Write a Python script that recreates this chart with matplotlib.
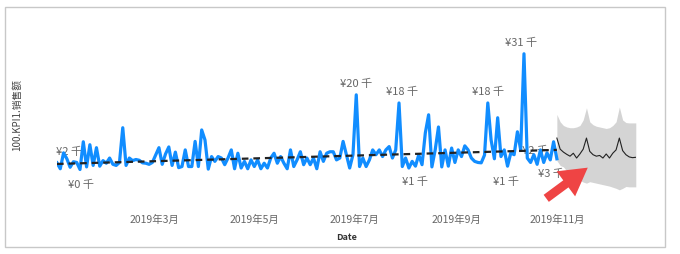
import matplotlib

matplotlib.use("Agg")
import matplotlib.pyplot as plt
import matplotlib.dates as mdates
import pandas as pd
from matplotlib.patches import FancyArrowPatch, Rectangle

plt.rcParams["font.family"] = ["Noto Sans CJK SC", "DejaVu Sans"]

# actual sales (thousand yuan), one reading every 2 days from 2019-01-01
sales = [
    1.9, 0.3, 4.6, 3.0, 0.7, 2.2, 2.0, 0.1, 7.6, 0.8, 6.8, 1.2, 6.0, 1.0, 2.5, 1.8,
    3.2, 1.5, 1.2, 2.0, 11.4, 1.2, 3.2, 2.5, 2.8, 2.6, 1.9, 1.8, 1.5, 2.0, 4.0, 6.0,
    1.5, 4.3, 6.2, 1.2, 4.8, 0.6, 0.9, 5.4, 0.9, 0.9, 7.7, 0.9, 10.8, 8.1, 0.2, 3.6,
    2.3, 3.6, 3.2, 1.4, 3.2, 5.4, 0.3, 4.5, 0.5, 2.3, 0.3, 2.7, 0.9, 2.7, 0.3, 1.8,
    0.5, 3.2, 4.5, 1.8, 3.6, 1.8, 0.3, 5.4, 0.9, 2.7, 4.9, 1.4, 3.2, 1.4, 3.2, 0.3,
    4.9, 2.3, 4.5, 4.9, 4.9, 2.7, 3.2, 7.7, 4.1, 0.5, 4.1, 20.3, 0.9, 3.2, 0.9, 2.7,
    5.4, 4.1, 5.4, 3.6, 5.4, 6.3, 3.2, 5.4, 18.1, 0.9, 3.2, 0.5, 2.3, 1.0, 4.1, 1.4,
    10.0, 14.9, 0.8, 5.4, 11.6, 0.8, 5.4, 1.0, 5.9, 2.0, 5.4, 3.6, 6.5, 5.4, 3.2, 2.3,
    2.0, 1.9, 4.0, 18.1, 8.1, 3.0, 14.1, 3.6, 5.4, 1.0, 4.6, 4.1, 10.3, 5.4, 31.4, 3.2,
    2.0, 4.1, 1.5, 5.4, 2.0, 4.6, 2.7, 7.6, 3.0,
]
dates = pd.date_range("2019-01-01", periods=len(sales), freq="2D")

# linear trend over the actual data (start / end values)
trend = [1.6, 5.4]

# forecast from 2019-11-01, every 2 days
forecast = [8.6, 5.6, 4.8, 4.2, 3.7, 4.5, 3.2, 4.3, 5.6, 8.6, 5.0, 4.1, 3.7,
            3.9, 3.2, 4.3, 3.2, 4.5, 5.4, 8.6, 5.2, 4.1, 3.5, 3.3, 3.4]
upper = [15.0, 13.0, 12.0, 11.6, 11.4, 11.4, 11.6, 12.0, 13.5, 16.8, 13.0, 12.2, 11.8,
         11.6, 11.4, 11.2, 11.4, 12.0, 13.0, 17.0, 13.5, 12.8, 12.7, 12.7, 12.7]
lower = [2.5, 1.2, 0.8, -0.3, -1.2, -1.6, -2.2, -2.8, -3.3, -3.6, -3.2, -3.4, -3.6,
         -3.8, -4.0, -4.2, -4.4, -4.7, -5.0, -5.4, -5.0, -4.5, -4.6, -4.6, -4.6]
fc_dates = pd.date_range(dates[-1], periods=len(forecast), freq="2D")

# data labels: point index, text, above/below
label_idx = [0, 7, 91, 104, 131, 142, 109, 137, 144, 152]
label_txt = ["¥2 千", "¥0 千", "¥20 千", "¥18 千", "¥18 千", "¥31 千",
             "¥1 千", "¥1 千", "¥2 千", "¥3 千"]
label_up = [True, False, True, True, True, True, False, False, True, False]

ticks = pd.to_datetime(["2019-03-01", "2019-05-01", "2019-07-01", "2019-09-01", "2019-11-01"])

fig = plt.figure(figsize=(6.8, 2.54), dpi=100)
fig.patches.append(Rectangle((0.0074, 0.028), 0.971, 0.944, transform=fig.transFigure,
                             fill=False, edgecolor="#c8c8c8", linewidth=1.0))
ax = fig.add_axes([0.0838, 0.193, 0.8512, 0.748])

ax.fill_between(fc_dates, lower, upper, color="#d4d4d4", linewidth=0, zorder=1)
ax.plot(fc_dates, forecast, color="#222222", linewidth=0.8, zorder=3)

dx_off = [9, 1, 0, 2, 0, -2, 0, -1, 3, -4]
for i, t, up, dx in zip(label_idx, label_txt, label_up, dx_off):
    ax.annotate(t, (dates[i], sales[i]), xytext=(dx, 8 if up else -11),
                textcoords="offset points", ha="center", va="center",
                fontsize=8, color="#666666", zorder=2)

ax.plot(dates, sales, color="#118dff", linewidth=2.3, solid_joinstyle="round", zorder=4)
ax.plot([dates[0], dates[-1]], trend, color="#222222", linewidth=1.6,
        linestyle=(0, (3, 2.2)), zorder=5)

ax.set_xlim(dates[0], fc_dates[-1])
ax.set_ylim(-9.5, 41.9)
ax.set_yticks([])
ax.set_xticks(ticks)
ax.xaxis.set_major_formatter(plt.FuncFormatter(
    lambda v, p: f"{mdates.num2date(v).year}年{mdates.num2date(v).month}月"))
ax.tick_params(axis="x", length=0, pad=7, labelsize=7.5, labelcolor="#666666")
for s in ax.spines.values():
    s.set_visible(False)
ax.set_xlabel("Date", fontsize=6.5, fontweight="bold", color="#333333", labelpad=6)
fig.text(17 / 680, 1 - 115 / 254, "100.KPI1.销售额", rotation=90, ha="center",
         va="center", fontsize=7, color="#444444")

# red call-out arrow from the screenshot
fig.patches.append(FancyArrowPatch((544 / 680, 1 - 200 / 254), (590 / 680, 1 - 166 / 254),
                                   transform=fig.transFigure,
                                   arrowstyle="simple,head_length=1.4,head_width=1.6,tail_width=0.45",
                                   mutation_scale=14, color="#ef4444", linewidth=0))

fig.savefig("out.png", dpi=100)
